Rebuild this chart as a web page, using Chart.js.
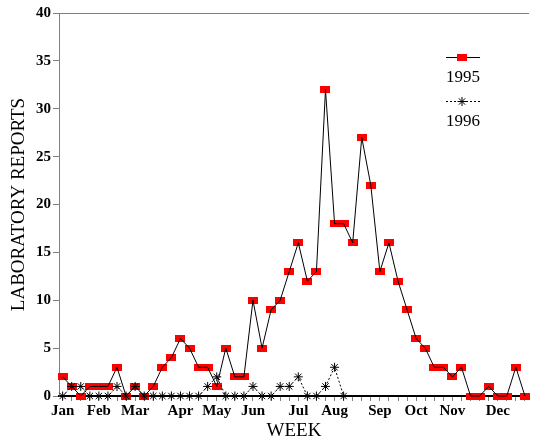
<!DOCTYPE html>
<html><head><meta charset="utf-8">
<script src="https://cdn.jsdelivr.net/npm/chart.js@4"></script>
<style>html,body{margin:0;padding:0;background:#fff}#wrap{width:535px;height:442px}</style>
</head><body><div id="wrap"><canvas id="c" width="535" height="442"></canvas></div>
<script>
const weekLabels = ['Jan','','','','Feb','','','','Mar','','','','','Apr','','','','May','','','','Jun','','','','','Jul','','','','Aug','','','','','Sep','','','','Oct','','','','Nov','','','','','Dec','','',''];
const reports1995 = [2,1,0,1,1,1,3,0,1,0,1,3,4,6,5,3,3,1,5,2,2,10,5,9,10,13,16,12,13,32,18,18,16,27,22,13,16,12,9,6,5,3,3,2,3,0,0,1,0,0,3,0];
const reports1996 = [0,1,1,0,0,0,1,0,1,0,0,0,0,0,0,0,1,2,0,0,0,1,0,0,1,1,2,0,0,1,3,0];
const seriesNames = ['1995','1996'];
const yTickValues = [0,5,10,15,20,25,30,35,40];
const xTitle = 'WEEK';
const yTitle = 'LABORATORY REPORTS';

const toXY = arr => arr.map((v,i)=>({x:i,y:v}));

const rectImg = document.createElement('canvas');
rectImg.width = 10; rectImg.height = 7;
const rc = rectImg.getContext('2d'); rc.fillStyle = '#ff0000'; rc.fillRect(0,0,10,7);

const GRAY = '#7f7f7f';
const TICKFONT = {family:'Liberation Serif', size:15, weight:'bold'};

const legendPlugin = {
  id:'customLegend',
  afterDraw(chart){
    const ctx = chart.ctx;
    ctx.save();
    ctx.strokeStyle = '#000'; ctx.lineWidth = 1; ctx.setLineDash([]);
    ctx.beginPath(); ctx.moveTo(446,57.5); ctx.lineTo(480,57.5); ctx.stroke();
    ctx.drawImage(rectImg, 457, 54);
    ctx.fillStyle = '#000';
    ctx.font = '17px "Liberation Serif"';
    ctx.textAlign = 'center'; ctx.textBaseline = 'middle';
    ctx.fillText(seriesNames[0], 463, 78);
    ctx.setLineDash([2,2]);
    ctx.beginPath(); ctx.moveTo(446,101.5); ctx.lineTo(480,101.5); ctx.stroke();
    ctx.setLineDash([]);
    Chart.helpers.drawPoint(ctx, {pointStyle:'star', radius:4.5, borderWidth:1, rotation:0}, 462, 101.5);
    ctx.fillText(seriesNames[1], 463, 122);
    ctx.restore();
  }
};

new Chart(document.getElementById('c'), {
  type:'line',
  data:{
    datasets:[
      {label:seriesNames[1], data:toXY(reports1996), borderColor:'#000', borderWidth:1, borderDash:[2,2], clip:false,
       pointStyle:'star', pointRadius:4.5, pointBorderColor:'#000', pointBorderWidth:1, pointBackgroundColor:'#000', tension:0},
      {label:seriesNames[0], data:toXY(reports1995), borderColor:'#000', borderWidth:1, pointRadius:0, tension:0, clip:false},
      {label:seriesNames[0]+' markers', data:toXY(reports1995), showLine:false, pointStyle:rectImg, pointRadius:5, clip:false}
    ]
  },
  options:{
    responsive:false, animation:false, devicePixelRatio:1,
    layout:{padding:{top:13,right:0,left:0,bottom:0}},
    plugins:{legend:{display:false}, tooltip:{enabled:false}},
    scales:{
      x:{type:'linear', min:-0.4, max:51.45,
        afterBuildTicks(s){ s.ticks = weekLabels.map((l,i)=>({value:i})); },
        afterFit(s){ s.height = 46; },
        ticks:{autoSkip:false, maxRotation:0, color:'#000', font:TICKFONT, padding:1,
          callback:(v)=> weekLabels[Math.round(v)] || ''},
        grid:{drawOnChartArea:false, drawTicks:true, tickLength:5, tickColor:GRAY},
        border:{color:'#000', width:2},
        title:{display:true, text:xTitle, color:'#000', font:{family:'Liberation Serif', size:19}, padding:{top:0,bottom:0}}
      },
      y:{min:0, max:40,
        afterBuildTicks(s){ s.ticks = yTickValues.map(v=>({value:v})); },
        afterFit(s){ s.width = 59; },
        ticks:{color:'#000', font:TICKFONT, padding:2},
        grid:{drawOnChartArea:true, tickLength:6, tickColor:GRAY,
          color:(c)=> (c.tick && c.tick.value===40) ? GRAY : 'rgba(0,0,0,0)'},
        border:{color:GRAY, width:1},
        title:{display:true, text:yTitle, color:'#000', font:{family:'Liberation Serif', size:19}, padding:{top:8,bottom:0}}
      }
    }
  },
  plugins:[legendPlugin]
});
</script></body></html>
